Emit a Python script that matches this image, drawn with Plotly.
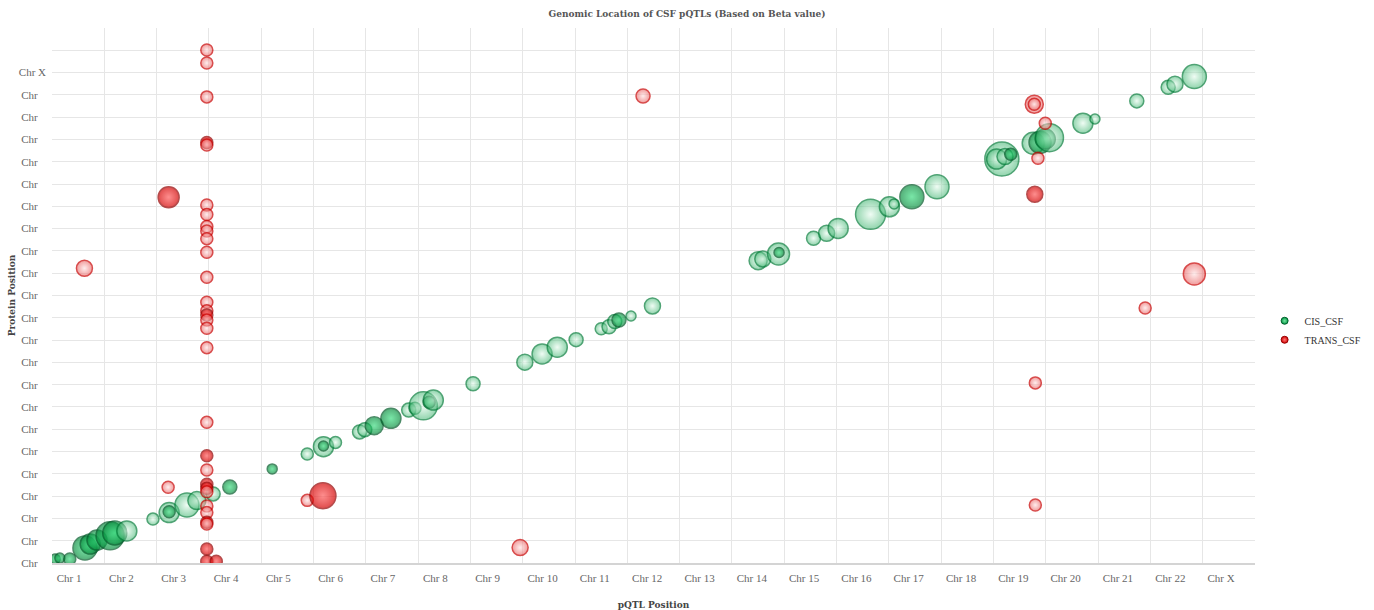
import plotly.graph_objects as go

# Chromosome labels used on both axes
CHROM_LABELS = [f"Chr {i}" for i in range(1, 23)] + ["Chr X"]

# cis pQTLs: genomic position of the pQTL (x), of the protein (y), and effect size (beta)
cis_x = [0.06, 0.15, 0.34, 0.63, 0.73, 0.86, 1.11, 1.20, 1.43, 1.93, 2.24, 2.24, 2.58, 2.77,
         3.08, 3.40, 4.21, 4.88, 5.19, 5.19, 5.42, 5.88, 5.98, 6.16, 6.48, 6.82, 6.94, 7.10,
         7.21, 7.29, 8.05, 9.04, 9.37, 9.66, 10.02, 10.50, 10.65, 10.76, 10.84, 11.07, 11.48,
         13.50, 13.59, 13.89, 13.90, 14.56, 14.81, 15.03, 15.65, 16.01, 16.10, 16.44, 16.92,
         18.16, 18.06, 18.22, 18.33, 18.76, 18.89, 18.99, 19.07, 19.71, 19.94, 20.74, 21.34,
         21.47, 21.84]
cis_y = [0.18, 0.22, 0.18, 0.67, 0.85, 1.03, 1.22, 1.35, 1.44, 1.97, 2.26, 2.30, 2.60, 2.80,
         3.10, 3.41, 4.22, 4.89, 5.22, 5.25, 5.41, 5.88, 5.98, 6.16, 6.49, 6.86, 6.94, 7.05,
         7.21, 7.31, 8.04, 9.01, 9.38, 9.68, 10.02, 10.51, 10.60, 10.83, 10.90, 11.08, 11.53,
         13.56, 13.64, 13.86, 13.93, 14.57, 14.79, 15.01, 15.64, 15.98, 16.11, 16.43, 16.88,
         18.12, 18.12, 18.23, 18.34, 18.83, 18.87, 19.02, 19.08, 19.73, 19.92, 20.73, 21.34,
         21.48, 21.82]
cis_beta = [-0.5, -0.5, -0.6, -1.2, -1.0, -1.0, -1.4, -1.2, 1.0, 0.6, 1.0, -0.6, 1.2, 0.9,
            0.7, -0.7, -0.5, 0.6, 1.0, -0.5, 0.6, 0.7, 0.7, -0.9, -1.0, 0.7, 0.6, 1.4,
            -0.6, 1.0, 0.7, 0.8, 1.0, 1.0, 0.7, 0.6, 0.7, 0.7, -0.7, 0.5, 0.8,
            0.9, 0.8, 1.1, -0.5, 0.7, 0.8, 1.0, 1.5, 1.0, 0.5, -1.2, 1.2,
            1.7, 1.0, 0.8, -0.6, 1.1, -1.1, -1.0, 1.4, 1.0, 0.5, 0.7, 0.7,
            0.8, 1.2]

# trans pQTLs
trans_x = [2.96] * 30 + [3.14, 0.62, 2.23, 2.22, 4.88, 5.18, 8.95, 11.30, 18.78, 18.78,
                         18.99, 18.85, 18.79, 21.84, 20.90, 18.80, 18.80]
trans_y = [23.01, 22.43, 20.91, 18.86, 18.75, 16.06, 15.63, 15.09, 14.89, 14.55, 13.94,
           12.82, 11.70, 11.32, 11.13, 10.90, 10.53, 9.66, 6.31, 4.81, 4.17, 3.53, 3.35,
           3.20, 2.56, 2.26, 1.83, 1.75, 0.63, 0.08,
           0.08, 13.22, 16.41, 3.40, 2.81, 3.02, 0.69, 20.95, 20.58, 20.58,
           19.73, 18.16, 16.54, 12.97, 11.44, 8.08, 2.60]
trans_beta = [0.6, 0.6, 0.6, -0.6, 0.6, 0.6, 0.6, 0.6, 0.6, 0.6, 0.6,
              0.6, 0.6, 0.6, -0.6, 0.6, 0.6, 0.6, 0.6, -0.6, 0.6, -0.6, -0.6,
              0.6, 0.6, 0.6, -0.6, 0.6, -0.6, -0.6,
              -0.6, 0.8, -1.05, 0.6, 0.6, -1.3, 0.8, 0.7, 0.9, 0.6,
              0.6, 0.6, -0.8, 1.1, 0.6, 0.6, 0.6]

SIZEREF = 0.05  # beta 1.0 -> 20 px bubble

# (edge colour, centre colour, outline) for positive / negative effects
STYLE = {
    "cis": {
        "pos": ("rgba(60,180,110,0.8)", "rgba(228,250,236,0.8)", "rgba(5,125,58,1)"),
        "neg": ("rgba(0,135,55,0.95)", "rgba(55,220,125,0.95)", "rgba(0,90,40,1)"),
    },
    "trans": {
        "pos": ("rgba(232,90,90,0.85)", "rgba(255,225,225,0.85)", "rgba(200,0,0,1)"),
        "neg": ("rgba(210,0,0,1)", "rgba(255,95,95,1)", "rgba(150,0,0,1)"),
    },
}


def bubble_trace(name, xs, ys, betas, style):
    edge = [style["pos" if b > 0 else "neg"][0] for b in betas]
    centre = [style["pos" if b > 0 else "neg"][1] for b in betas]
    outline = [style["pos" if b > 0 else "neg"][2] for b in betas]
    return go.Scatter(
        x=xs, y=ys, mode="markers", name=name, showlegend=False,
        customdata=betas,
        hovertemplate=name + "<br>beta=%{customdata}<extra></extra>",
        marker=dict(
            size=[abs(b) for b in betas], sizemode="diameter", sizeref=SIZEREF,
            color=edge,
            gradient=dict(type="radial", color=centre),
            line=dict(color=outline, width=1.5),
        ),
    )


fig = go.Figure()
fig.add_trace(bubble_trace("CIS_CSF", cis_x, cis_y, cis_beta, STYLE["cis"]))
fig.add_trace(bubble_trace("TRANS_CSF", trans_x, trans_y, trans_beta, STYLE["trans"]))

# legend entries
for name, edge, centre, outline in [
    ("CIS_CSF", "rgb(0,150,70)", "rgb(120,230,160)", "rgb(0,95,42)"),
    ("TRANS_CSF", "rgb(210,0,0)", "rgb(255,120,120)", "rgb(150,0,0)"),
]:
    fig.add_trace(go.Scatter(
        x=[None], y=[None], mode="markers", name=name,
        marker=dict(size=7, color=edge, gradient=dict(type="radial", color=centre),
                    line=dict(color=outline, width=1)),
    ))

GRID = "#e6e6e6"
tick_font = dict(family="Liberation Serif", size=11, color="#666666")
title_font = dict(family="DejaVu Serif", size=9, color="#444444")

fig.update_layout(
    width=1374, height=610, autosize=False,
    margin=dict(l=52, r=119, t=28, b=47, autoexpand=False),
    paper_bgcolor="white", plot_bgcolor="white",
    title=dict(
        text="<b>Genomic Location of CSF pQTLs (Based on Beta value)</b>",
        x=0.5, xref="container", y=1 - 14 / 610, yref="container",
        xanchor="center", yanchor="middle",
        font=dict(family="DejaVu Serif", size=9, color="#555555"),
    ),
    xaxis=dict(
        range=[0, 23], tickmode="array", automargin=False,
        tickvals=list(range(24)), ticktext=CHROM_LABELS + [""],
        ticklabelposition="outside right", ticklabelshift=4, ticklabelstandoff=4,
        showgrid=True, gridcolor=GRID, gridwidth=1, zeroline=False, ticks="",
        showline=True, linecolor="#d4d4d4", linewidth=1.5,
        tickfont=tick_font,
        title=dict(text="<b>pQTL Position</b>", font=title_font, standoff=22),
    ),
    yaxis=dict(
        range=[0, 24], tickmode="array", automargin=False,
        tickvals=list(range(25)),
        ticktext=["Chr\u00a0\u00a0\u00a0"] * 22 + ["Chr X", "", ""],
        showgrid=True, gridcolor=GRID, gridwidth=1, zeroline=False, ticks="",
        ticklabelstandoff=5,
        tickfont=tick_font,
        title=dict(text="<b>Protein Position</b>", font=title_font, standoff=1),
    ),
    legend=dict(
        x=1.008, y=0.435, xanchor="left", yanchor="middle",
        font=dict(family="Liberation Serif", size=10, color="#333333"),
        itemwidth=30, tracegroupgap=0, bgcolor="rgba(0,0,0,0)",
    ),
    hovermode="closest",
)

fig.write_html("out.html")
